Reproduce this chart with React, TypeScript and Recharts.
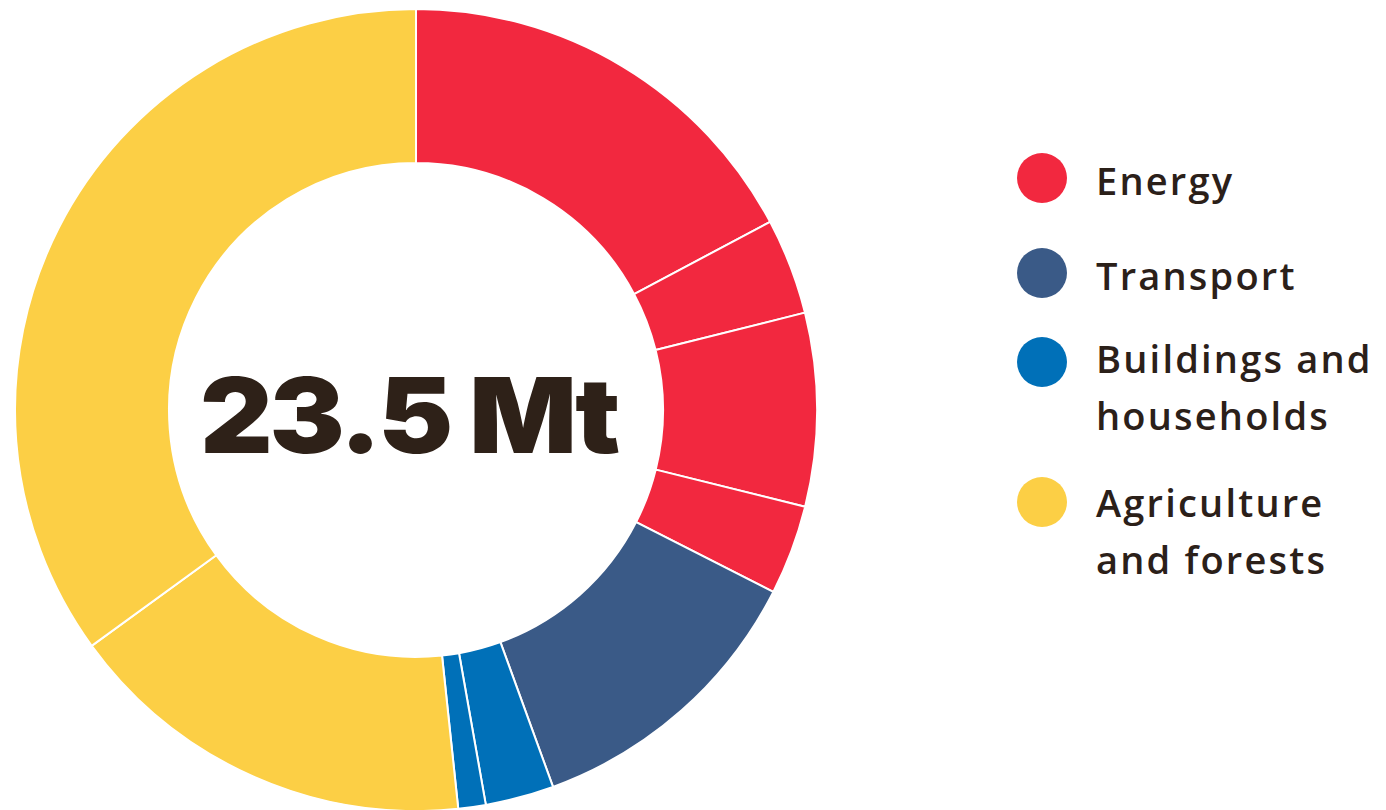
import React from 'react';
import { PieChart, Pie, Cell, Label, Legend } from 'recharts';

// Sub-sector slices (Mt CO2e), clockwise from 12 o'clock
const sliceNames = [
  'Energy A', 'Energy B', 'Energy C', 'Energy D',
  'Transport',
  'Buildings A', 'Buildings B',
  'Agriculture A', 'Agriculture B',
];
const sliceSectors = [
  'Energy', 'Energy', 'Energy', 'Energy',
  'Transport',
  'Buildings and households', 'Buildings and households',
  'Agriculture and forests', 'Agriculture and forests',
];
const sliceValues = [4.05, 0.91, 1.83, 0.85, 2.81, 0.65, 0.26, 3.92, 8.23];

const sectorNames = ['Energy', 'Transport', 'Buildings and households', 'Agriculture and forests'];
const sectorLines = [['Energy'], ['Transport'], ['Buildings and', 'households'], ['Agriculture', 'and forests']];
const sectorColors = ['#F2283F', '#3A5A87', '#0070B8', '#FCCF45'];

const totalLabel = '23.5 Mt';

const data = sliceNames.map((name, i) => ({ name, sector: sliceSectors[i], value: sliceValues[i] }));
const colorOf = (sector: string) => sectorColors[sectorNames.indexOf(sector)];

const TEXT = '#2B2019';

// legend layout (px, page coordinates)
const legendDotY = [178, 273, 362, 502];
const legendBaseY = [195, 290, 373, 517];

const LegendContent = () => (
  <div style={{ position: 'relative', width: 1386, height: 810, fontFamily: '"Open Sans", sans-serif', color: TEXT }}>
    {sectorNames.map((s, i) => (
      <React.Fragment key={s}>
        <div
          style={{
            position: 'absolute',
            left: 1017,
            top: legendDotY[i] - 25,
            width: 50,
            height: 50,
            borderRadius: 25,
            background: sectorColors[i],
          }}
        />
        <div
          style={{
            position: 'absolute',
            left: 1096,
            top: legendBaseY[i] - 43,
            fontSize: 38,
            lineHeight: '57px',
            fontWeight: 600,
            letterSpacing: 2.2,
            whiteSpace: 'nowrap',
          }}
        >
          {sectorLines[i].map((l) => (
            <div key={l}>{l}</div>
          ))}
        </div>
      </React.Fragment>
    ))}
  </div>
);

export default function App() {
  return (
    <div style={{ position: 'absolute', left: 0, top: 0, width: 1386, height: 810, background: '#fff' }}>
      <PieChart width={1386} height={810} margin={{ top: 0, right: 0, bottom: 0, left: 0 }}>
        <Pie
          data={data}
          dataKey="value"
          nameKey="name"
          cx={416}
          cy={410}
          innerRadius={247}
          outerRadius={401}
          startAngle={90}
          endAngle={-270}
          stroke="#ffffff"
          strokeWidth={2}
          isAnimationActive={false}
        >
          {data.map((d) => (
            <Cell key={d.name} fill={colorOf(d.sector)} />
          ))}
          <Label
            position="center"
            content={(props: any) => {
              const vb = props.viewBox || {};
              const cx = vb.cx ?? 416;
              const cy = vb.cy ?? 410;
              return (
                <text
                  x={cx - 7.5}
                  y={cy + 43}
                  textAnchor="middle"
                  fill="#2E2118"
                  textLength={417}
                  lengthAdjust="spacingAndGlyphs"
                  style={{ fontFamily: 'Inter, sans-serif', fontWeight: 900, fontSize: 105, letterSpacing: -3 }}
                >
                  {totalLabel}
                </text>
              );
            }}
          />
        </Pie>
        <Legend
          content={() => <LegendContent />}
          wrapperStyle={{ position: 'absolute', left: 0, top: 0, width: 1386, height: 810, pointerEvents: 'none' }}
        />
      </PieChart>
    </div>
  );
}
